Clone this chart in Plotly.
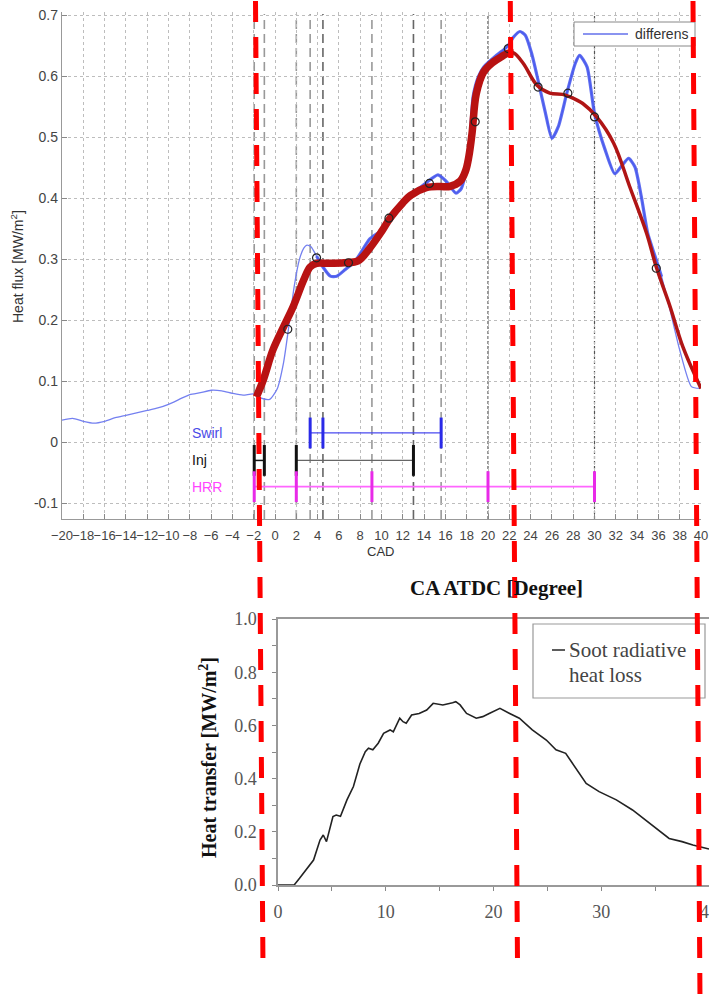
import plotly.graph_objects as go

W, H = 709, 1002

# ---------------- top chart data (CAD vs heat flux) ----------------
blue_x = [-20, -19, -18, -17, -16, -15, -14, -13, -12, -11, -10, -9, -8, -7, -6, -5, -4, -3, -2,
          -1.3, -0.5, 0.2, 0.8, 1.3, 1.8, 2.3, 2.7, 3.0, 3.4, 3.9,
          4.5, 5.2, 5.8, 6.6, 7.5, 8.9, 9.6, 10.3, 10.8, 11.5,
          12.3, 13.3, 14.2, 15.3, 16.1, 17.0, 17.5, 18.2, 18.6, 19.1,
          19.6, 20.8, 21.8, 22.4, 23.0, 23.5, 24.1, 24.7, 25.4, 26.0,
          26.6, 27.4, 28.2, 28.6, 29.3, 30.0, 31.0, 31.9, 32.6, 33.2,
          33.8, 34.4, 35.0, 35.7, 36.3, 37.1, 38.0, 39.1, 39.9]
blue_y = [0.036, 0.039, 0.034, 0.031, 0.034, 0.040, 0.044, 0.048, 0.052, 0.056, 0.062, 0.070, 0.078,
          0.081, 0.085, 0.084, 0.080, 0.077, 0.079,
          0.072, 0.070, 0.087, 0.130, 0.190, 0.255, 0.300, 0.318, 0.323, 0.320, 0.305,
          0.287, 0.272, 0.272, 0.283, 0.296, 0.333, 0.342, 0.350, 0.372, 0.385,
          0.400, 0.413, 0.425, 0.438, 0.427, 0.408, 0.416, 0.468, 0.566, 0.599,
          0.615, 0.634, 0.648, 0.664, 0.673, 0.667, 0.637, 0.593, 0.539, 0.498,
          0.517, 0.572, 0.621, 0.634, 0.615, 0.539, 0.479, 0.440, 0.454, 0.465,
          0.451, 0.402, 0.342, 0.304, 0.271, 0.216, 0.151, 0.091, 0.088]

red_x = [-1.75, -1.1, -0.2, 0.8, 1.7, 2.7, 3.3, 3.9, 5.0, 6.5,
         7.8, 8.9, 10.0, 10.8, 12.0, 12.7, 14.2, 15.5, 16.4, 17.4,
         17.9, 18.2, 18.5, 18.9, 19.6, 20.5, 21.3, 21.8, 22.4, 23.3,
         24.6, 25.8, 27.0, 27.7, 28.9, 30.2, 31.8, 33.3, 34.9, 35.8,
         37.1, 38.3, 40.0]
red_y = [0.074, 0.102, 0.151, 0.189, 0.222, 0.266, 0.287, 0.293, 0.293, 0.294,
         0.297, 0.318, 0.345, 0.367, 0.392, 0.404, 0.417, 0.419, 0.419, 0.428,
         0.445, 0.468, 0.506, 0.571, 0.607, 0.623, 0.632, 0.637, 0.638, 0.621,
         0.585, 0.572, 0.570, 0.566, 0.555, 0.533, 0.490, 0.419, 0.342, 0.287,
         0.222, 0.156, 0.088]
red_split = 22.4

mk_x = [1.2, 3.9, 6.9, 10.7, 14.5, 18.8, 21.9, 24.7, 27.5, 30.0, 35.8]
mk_y = [0.185, 0.302, 0.294, 0.367, 0.424, 0.525, 0.645, 0.582, 0.572, 0.533, 0.285]

swirl_ticks = [3.3, 4.5, 15.6]
inj_ticks = [-1.95, -1.0, 2.0, 13.0]
hrr_ticks = [-1.95, 2.0, 9.1, 20.0, 30.0]
row_names = ["Swirl", "Inj", "HRR"]
row_y = [0.015, -0.030, -0.073]

top_xticks = list(range(-20, 41, 2))
top_yticks = [-0.1, 0.0, 0.1, 0.2, 0.3, 0.4, 0.5, 0.6, 0.7]
top_ytext = ["-0.1", "0", "0.1", "0.2", "0.3", "0.4", "0.5", "0.6", "0.7"]

# ---------------- bottom chart data (soot radiative heat loss) ----------------
soot_x = [0, 1.5, 2.0, 2.6, 3.3, 3.9, 4.2, 4.5, 5.1, 5.4,
          5.8, 6.4, 7.0, 7.6, 8.1, 8.4, 8.8, 9.3, 9.8, 10.4,
          10.7, 11.3, 11.6, 11.9, 12.4, 13.1, 13.8, 14.4, 15.3, 16.2,
          16.5, 16.9, 17.5, 18.4, 19.0, 19.6, 20.6, 21.5, 22.4, 23.6,
          24.9, 25.8, 26.7, 27.2, 27.7, 28.6, 29.8, 31.4, 32.9, 34.1,
          35.4, 36.3, 37.5, 38.5, 40.0]
soot_y = [0, 0, 0.025, 0.056, 0.094, 0.169, 0.188, 0.163, 0.257, 0.263,
          0.258, 0.320, 0.370, 0.455, 0.501, 0.514, 0.508, 0.533, 0.570, 0.583,
          0.576, 0.627, 0.614, 0.608, 0.639, 0.645, 0.658, 0.683, 0.677, 0.685,
          0.689, 0.677, 0.645, 0.627, 0.633, 0.645, 0.664, 0.645, 0.627, 0.583,
          0.545, 0.508, 0.495, 0.465, 0.435, 0.382, 0.351, 0.320, 0.282, 0.244,
          0.200, 0.175, 0.163, 0.150, 0.135]
bot_xticks = [0, 10, 20, 30, 40]
bot_xminor = [5, 15, 25, 35]
bot_yticks = [0.0, 0.2, 0.4, 0.6, 0.8, 1.0]
bot_yminor = [0.1, 0.3, 0.5, 0.7, 0.9]

# red overlay guide lines: (x_top_px, x_bottom_px, y_bottom_px)
guides = [(255.5, 263.0, 968), (510.3, 517.5, 963), (693.0, 700.0, 1000)]


def px(x):
    return x / W


def py(y):
    return 1 - y / H


SANS = "Liberation Sans, Arial, sans-serif"
SERIF = "Liberation Serif, Times New Roman, serif"

fig = go.Figure()

# blue "differens" line (thin) + noisy thick part
fig.add_trace(go.Scatter(x=blue_x, y=blue_y, mode="lines",
                         line=dict(color="#7480f0", width=1.3, shape="spline", smoothing=0.6),
                         xaxis="x", yaxis="y", hoverinfo="skip"))
bx = [x for x in blue_x if 3.9 <= x <= 36.3]
by = [y for x, y in zip(blue_x, blue_y) if 3.9 <= x <= 36.3]
fig.add_trace(go.Scatter(x=bx, y=by, mode="lines",
                         line=dict(color="#4556ee", width=3.2, shape="spline", smoothing=0.6),
                         opacity=0.85, xaxis="x", yaxis="y", hoverinfo="skip"))

# red fitted curve
rx1 = [x for x in red_x if x <= red_split]
ry1 = [y for x, y in zip(red_x, red_y) if x <= red_split]
rx2 = [x for x in red_x if x >= 21.8]
ry2 = [y for x, y in zip(red_x, red_y) if x >= 21.8]
fig.add_trace(go.Scatter(x=rx2, y=ry2, mode="lines",
                         line=dict(color="#b01515", width=3.5, shape="spline"),
                         xaxis="x", yaxis="y", hoverinfo="skip"))
fig.add_trace(go.Scatter(x=rx1, y=ry1, mode="lines",
                         line=dict(color="#b81212", width=7.5, shape="spline"),
                         xaxis="x", yaxis="y", hoverinfo="skip"))

# markers
fig.add_trace(go.Scatter(x=mk_x, y=mk_y, mode="markers",
                         marker=dict(symbol="circle-open", size=8, color="#222",
                                     line=dict(width=1.2, color="#222")),
                         xaxis="x", yaxis="y", hoverinfo="skip"))

# event rows
fig.add_trace(go.Scatter(x=[swirl_ticks[0], swirl_ticks[-1]], y=[row_y[0]] * 2, mode="lines",
                         line=dict(color="#4a4af0", width=1.3), xaxis="x", yaxis="y"))
fig.add_trace(go.Scatter(x=inj_ticks[:2], y=[row_y[1]] * 2, mode="lines",
                         line=dict(color="#111", width=1.5), xaxis="x", yaxis="y"))
fig.add_trace(go.Scatter(x=inj_ticks[2:], y=[row_y[1]] * 2, mode="lines",
                         line=dict(color="#666", width=1.3), xaxis="x", yaxis="y"))
fig.add_trace(go.Scatter(x=[hrr_ticks[0], hrr_ticks[-1]], y=[row_y[2]] * 2, mode="lines",
                         line=dict(color="#ff66ff", width=1.6), xaxis="x", yaxis="y"))
for ticks, yy, col in [(swirl_ticks, row_y[0], "#2a2ae8"),
                       (inj_ticks, row_y[1], "#111111"),
                       (hrr_ticks, row_y[2], "#e82ae8")]:
    fig.add_trace(go.Scatter(x=ticks, y=[yy] * len(ticks), mode="markers",
                             marker=dict(symbol="line-ns-open", size=22, color=col,
                                         line=dict(width=3, color=col)),
                             xaxis="x", yaxis="y", hoverinfo="skip"))

# bottom chart curve
fig.add_trace(go.Scatter(x=soot_x, y=soot_y, mode="lines",
                         line=dict(color="#222", width=1.6),
                         xaxis="x2", yaxis="y2", hoverinfo="skip"))

# dashed event lines in top chart
event_lines = sorted(set(swirl_ticks + inj_ticks + hrr_ticks))
dark_lines = {4.5, 13.0}
fine_lines = {20.0, 30.0}
shapes = []
for xv in event_lines:
    if xv in fine_lines:
        ln = dict(color="#555", width=1.2, dash="3px,2px")
    elif xv in dark_lines:
        ln = dict(color="#666", width=1.6, dash="9px,5px")
    else:
        ln = dict(color="#999", width=1.6, dash="9px,5px")
    shapes.append(dict(type="line", xref="x", yref="paper", x0=xv, x1=xv,
                       y0=py(519), y1=py(14), line=ln, layer="below"))

# top legend box
shapes.append(dict(type="rect", xref="paper", yref="paper", x0=px(574), x1=px(695),
                   y0=py(22), y1=py(46), line=dict(color="#888", width=1),
                   fillcolor="white", layer="above"))
shapes.append(dict(type="line", xref="paper", yref="paper", x0=px(583), x1=px(628),
                   y0=py(34), y1=py(34), line=dict(color="#8a94f0", width=2), layer="above"))
# bottom legend box
shapes.append(dict(type="rect", xref="paper", yref="paper", x0=px(533), x1=px(705),
                   y0=py(624), y1=py(698), line=dict(color="#999", width=1.2),
                   fillcolor="white", layer="above"))
shapes.append(dict(type="line", xref="paper", yref="paper", x0=px(552), x1=px(565),
                   y0=py(650), y1=py(650), line=dict(color="#333", width=1.6), layer="above"))

# red overlay guides
for xt, xb, yb in guides:
    shapes.append(dict(type="line", xref="paper", yref="paper", x0=px(xt), x1=px(xb),
                       y0=py(1), y1=py(yb), line=dict(color="#ff0000", width=5, dash="21px,15px"),
                       layer="above"))

annotations = [
    dict(text="differens", xref="paper", yref="paper", x=px(633), y=py(34), xanchor="left",
         yanchor="middle", showarrow=False, font=dict(family=SANS, size=14, color="#333")),
    dict(text="Heat flux [MW/m<sup>2</sup>]", xref="paper", yref="paper", x=px(17), y=py(267),
         xanchor="center", yanchor="middle", textangle=-90, showarrow=False,
         font=dict(family=SANS, size=14, color="#333")),
    dict(text="CAD", xref="paper", yref="paper", x=px(380), y=py(551), xanchor="center",
         yanchor="middle", showarrow=False, font=dict(family=SANS, size=13, color="#333")),
    dict(text="<b>CA ATDC [Degree]</b>", xref="paper", yref="paper", x=px(496), y=py(588),
         xanchor="center", yanchor="middle", showarrow=False,
         font=dict(family=SERIF, size=21, color="#111")),
    dict(text="<b>Heat transfer [MW/m<sup>2</sup>]</b>", xref="paper", yref="paper", x=px(208),
         y=py(758), xanchor="center", yanchor="middle", textangle=-90, showarrow=False,
         font=dict(family=SERIF, size=20, color="#111")),
    dict(text="Soot radiative", xref="paper", yref="paper", x=px(567), y=py(650),
         xanchor="left", yanchor="middle", showarrow=False,
         font=dict(family=SERIF, size=21, color="#444")),
    dict(text="heat loss", xref="paper", yref="paper", x=px(567), y=py(675),
         xanchor="left", yanchor="middle", showarrow=False,
         font=dict(family=SERIF, size=21, color="#444")),
]
row_colors = ["#4a4ae8", "#111111", "#ff44ff"]
for name, yy, col in zip(row_names, row_y, row_colors):
    annotations.append(dict(text=name, xref="x", yref="y", x=-8.0, y=yy, xanchor="left",
                            yanchor="middle", showarrow=False,
                            font=dict(family=SANS, size=14, color=col)))

fig.update_layout(
    template="none",
    width=W, height=H, margin=dict(l=0, r=0, t=0, b=0, autoexpand=False),
    paper_bgcolor="white", plot_bgcolor="white", showlegend=False,
    shapes=shapes, annotations=annotations,
    xaxis=dict(domain=[px(62), px(701)], range=[-20, 40], anchor="y", automargin=False,
               tickvals=top_xticks, tickangle=0, ticks="inside", ticklen=5, tickcolor="#888",
               showline=True, linecolor="#999", linewidth=1.3, ticklabeloverflow="allow",
               showgrid=True, gridcolor="#bdbdbd", griddash="dot", gridwidth=1,
               zeroline=False, tickfont=dict(family=SANS, size=13, color="#444"),
               ticklabelstandoff=4),
    yaxis=dict(domain=[py(519), py(12)], range=[-0.126, 0.705], anchor="x", automargin=False,
               tickvals=top_yticks, ticktext=top_ytext, ticks="inside", ticklen=5,
               tickcolor="#888", showline=True, linecolor="#999", linewidth=1.3,
               showgrid=True, gridcolor="#bdbdbd", griddash="dot", gridwidth=1,
               zeroline=False, tickfont=dict(family=SANS, size=14, color="#444")),
    xaxis2=dict(domain=[px(278), 1.0], range=[0, 40], anchor="y2", automargin=False,
                tickvals=bot_xticks, tickangle=0, ticks="outside", ticklen=4, tickcolor="#888",
                minor=dict(tickvals=bot_xminor, ticks="outside", ticklen=4, tickcolor="#888"),
                showline=True, linecolor="#999", linewidth=1.5, mirror=True,
                ticklabeloverflow="allow", showgrid=False, zeroline=False,
                tickfont=dict(family=SERIF, size=18, color="#555"), ticklabelstandoff=6),
    yaxis2=dict(domain=[py(885), py(619)], range=[0, 1.0], anchor="x2", automargin=False,
                tickvals=bot_yticks, ticktext=["%.1f" % v for v in bot_yticks],
                ticks="outside", ticklen=4, tickcolor="#888",
                minor=dict(tickvals=bot_yminor, ticks="outside", ticklen=4, tickcolor="#888"),
                showline=True, linecolor="#999", linewidth=1.5,
                showgrid=False, zeroline=False,
                tickfont=dict(family=SERIF, size=18, color="#555"), ticklabelstandoff=12),
)

fig.write_html("out.html", config={"displayModeBar": False})
